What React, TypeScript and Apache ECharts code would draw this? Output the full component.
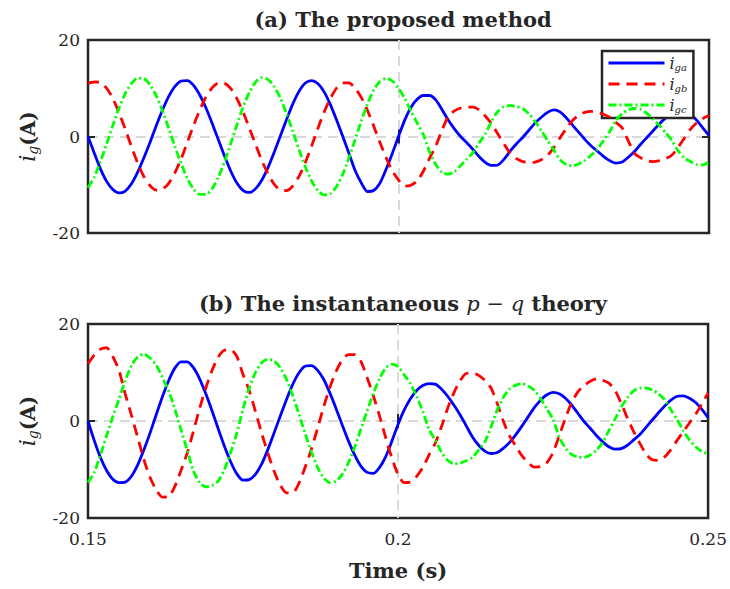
import React, { useEffect, useRef } from "react";
import * as echarts from "echarts";

// sampling grid of the time axis (s)
const T_START = 0.15;
const T_STEP = 0.001;

// (a) proposed method — grid currents (A), one value per ms from 0.150 to 0.250 s
const iaA = [
  0, -3.4, -6.7, -9.3, -11.0, -11.7, -11.3, -9.8, -7.4, -4.4,
  -1.2, 2.3, 5.5, 8.3, 10.4, 11.5, 11.6, 10.6, 8.6, 5.9,
  2.7, -0.7, -4.1, -7.2, -9.7, -11.2, -11.6, -10.8, -9.0, -6.4,
  -3.2, 0.2, 3.6, 6.8, 9.4, 11.1, 11.6, 11.0, 9.3, 6.7,
  3.5, 0.1, -3.4, -7.0, -9.6, -11.4, -11.2, -9.7, -6.8, -3.5,
  0, 3.4, 6.0, 7.7, 8.5, 8.5, 7.6, 5.6, 3.4, 1.6,
  0.0, -1.3, -2.7, -4.2, -5.4, -6.0, -5.9, -4.7, -3.0, -1.5,
  -0.2, 1.3, 2.8, 4.0, 5.0, 5.5, 5.1, 3.9, 2.4, 0.9,
  -0.6, -1.9, -3.0, -4.1, -5.0, -5.5, -5.3, -4.3, -3.1, -1.6,
  -0.2, 1.2, 2.6, 3.8, 4.7, 5.2, 5.3, 4.7, 3.4, 1.8,
  0.2,
];
const ibA = [
  11.0, 11.3, 11.2, 10.0, 7.9, 4.9, 1.5, -2.1, -5.5, -8.3,
  -10.2, -11.1, -10.9, -9.7, -7.5, -4.6, -1.2, 2.3, 5.5, 8.2,
  10.1, 11.1, 11.0, 9.9, 7.8, 5.0, 1.7, -1.7, -5.0, -7.8,
  -9.9, -11.1, -11.2, -10.2, -8.2, -5.4, -2.0, 1.6, 5.0, 7.8,
  10.0, 11.1, 11.1, 10.0, 8.1, 5.4, 2.2, -1.2, -4.4, -7.1,
  -9.0, -10.3, -10.1, -9.2, -7.2, -4.5, -2.0, 1.3, 4.1, 5.3,
  5.9, 6.1, 6.1, 5.5, 4.2, 2.6, 0.5, -1.6, -3.5, -4.6,
  -5.2, -5.4, -5.3, -4.8, -3.9, -2.3, -0.3, 1.6, 3.3, 4.4,
  5.0, 5.2, 5.0, 4.6, 4.0, 2.9, 1.8, -0.9, -3.5, -4.4,
  -5.0, -5.2, -5.0, -4.6, -3.9, -2.3, -0.4, 1.5, 2.8, 3.7,
  4.4,
];
const icA = [
  -10.6, -8.4, -5.2, -1.5, 2.3, 5.9, 8.9, 11.0, 12.1, 12.0,
  10.7, 8.4, 5.3, 1.7, -2.1, -5.6, -8.7, -10.9, -12.0, -12.0,
  -10.8, -8.4, -5.2, -1.4, 2.5, 6.2, 9.2, 11.3, 12.2, 11.8,
  10.3, 7.9, 4.6, 1.0, -2.8, -6.3, -9.2, -11.2, -12.1, -11.9,
  -10.4, -7.9, -4.5, -0.7, 3.2, 6.7, 9.6, 11.4, 12.0, 11.5,
  10.0, 7.9, 5.3, 2.8, 0.4, -3.2, -5.8, -7.4, -7.8, -7.3,
  -6.0, -4.7, -3.3, -1.3, 0.6, 3.2, 5.2, 6.2, 6.4, 6.2,
  5.8, 4.7, 3.1, 1.2, -0.8, -2.8, -4.8, -5.8, -6.1, -5.7,
  -5.0, -3.9, -2.7, -0.9, 1.0, 3.3, 4.7, 5.5, 5.8, 5.6,
  4.8, 3.6, 2.3, 0.8, -0.8, -2.9, -4.4, -5.2, -5.8, -5.9,
  -5.3,
];

// (b) instantaneous p-q theory — grid currents (A)
const iaB = [
  0, -4.0, -7.5, -10.2, -12.0, -12.7, -12.6, -11.4, -9.1, -6.0,
  -2.5, 1.3, 5.0, 8.3, 10.9, 12.2, 12.2, 11.0, 8.7, 5.6,
  2.1, -1.6, -5.2, -8.4, -10.9, -12.2, -12.1, -11.0, -8.9, -5.9,
  -2.5, 1.0, 4.4, 7.5, 9.9, 11.3, 11.4, 10.5, 8.6, 5.8,
  2.6, -0.8, -4.1, -7.0, -9.3, -10.6, -10.8, -9.6, -7.4, -4.2,
  -0.7, 2.3, 4.6, 6.3, 7.3, 7.7, 7.6, 6.6, 5.1, 3.3,
  1.3, -1.0, -3.3, -5.0, -6.2, -6.7, -6.5, -5.6, -4.4, -2.8,
  -1.0, 0.9, 2.8, 4.3, 5.4, 5.9, 5.6, 4.7, 3.3, 1.6,
  -0.1, -1.5, -3.0, -4.3, -5.3, -5.8, -5.7, -5.0, -3.9, -2.8,
  -1.3, 0.2, 1.7, 3.1, 4.3, 5.1, 5.2, 4.7, 3.8, 2.4,
  0.7,
];
const ibB = [
  11.8, 13.6, 14.8, 15.1, 13.3, 10.4, 5.6, 1.2, -3.3, -7.9,
  -11.6, -14.2, -15.7, -15.6, -13.5, -10.2, -6.6, -2.1, 2.6, 6.8,
  10.4, 13.2, 14.6, 14.7, 13.3, 9.6, 6.3, 2.0, -2.5, -6.6,
  -10.3, -13.2, -14.8, -14.8, -12.9, -9.6, -5.9, -1.6, 2.9, 6.9,
  10.2, 12.6, 13.7, 13.7, 12.3, 9.0, 5.3, 1.1, -3.4, -7.6,
  -11.0, -12.7, -12.6, -11.4, -9.6, -7.0, -4.6, -1.2, 2.6, 5.8,
  8.3, 9.8, 9.9, 9.4, 8.4, 6.8, 3.6, -0.1, -3.1, -5.2,
  -7.2, -8.6, -9.5, -9.4, -8.6, -6.5, -3.0, 0.6, 3.8, 6.0,
  7.3, 8.2, 8.7, 8.4, 7.8, 6.3, 3.6, 0.6, -2.2, -4.6,
  -6.8, -8.0, -8.1, -7.4, -5.9, -4.0, -2.2, -0.4, 1.4, 3.5,
  5.8,
];
const icB = [
  -12.7, -10.6, -7.0, -3.0, 0.9, 4.5, 8.3, 11.4, 13.2, 13.8,
  13.0, 11.5, 9.0, 6.2, 2.5, -1.8, -6.0, -10.3, -12.7, -13.6,
  -13.3, -12.4, -10.0, -6.5, -2.5, 2.5, 6.8, 10.0, 12.0, 12.7,
  12.4, 11.0, 8.6, 5.3, 1.5, -2.5, -6.3, -9.5, -11.7, -12.7,
  -12.4, -11.0, -8.6, -5.4, -1.7, 2.0, 5.6, 8.7, 10.9, 11.7,
  11.2, 9.5, 7.7, 5.0, 2.0, -1.7, -4.0, -6.4, -8.1, -8.8,
  -8.7, -8.2, -7.5, -6.0, -4.3, -1.2, 2.3, 4.9, 6.6, 7.4,
  7.7, 7.2, 6.3, 4.6, 2.5, 0.3, -3.3, -5.6, -6.9, -7.4,
  -7.5, -7.0, -6.0, -4.4, -2.0, 0.4, 2.9, 4.8, 6.2, 6.8,
  6.8, 6.4, 5.6, 4.4, 2.3, 0.3, -2.0, -3.9, -5.3, -6.3,
  -6.8,
];

const xTicks = [0.15, 0.2, 0.25];
const yTicks = [-20, 0, 20];
const seriesNames = ["iga", "igb", "igc"];
const titleA = "(a) The proposed method";
const titleB = "(b) The instantaneous {m|p − q} theory";

const SERIF = "'DejaVu Serif', 'Liberation Serif', serif";
const INK = "#262626";

export default function App() {
  const ref = useRef<HTMLDivElement>(null);
  useEffect(() => {
    if (!ref.current) return;
    const chart = echarts.init(ref.current, undefined, { renderer: "svg" });
    const time = iaA.map((_, i) => +(T_START + i * T_STEP).toFixed(3));
    const pair = (vals: number[]) => vals.map((v, i) => [time[i], v]);

    const colors = ["#0000ff", "#ff0000", "#00ff00"];
    const dash: any[] = ["solid", [11, 7], [8, 3, 2, 3]];

    const tick = { inside: true, length: 7, lineStyle: { color: INK, width: 2 } };
    const split = {
      show: true,
      showMinLine: false,
      showMaxLine: false,
      lineStyle: { color: "#d9d9d9", width: 2, type: [10, 6] },
    };
    const labelStyle = { color: INK, fontFamily: SERIF, fontSize: 17 };

    const xAx = (grid: number, pos: string, labels: boolean, withName: boolean) => ({
      type: "value",
      gridIndex: grid,
      position: pos,
      min: xTicks[0],
      max: xTicks[xTicks.length - 1],
      interval: 0.05,
      axisLine: { show: false },
      axisTick: tick,
      splitLine: pos === "bottom" ? split : { show: false },
      axisLabel: {
        show: labels,
        ...labelStyle,
        margin: 12,
        formatter: (v: number) => String(parseFloat(v.toFixed(2))),
      },
      name: withName ? "Time (s)" : "",
      nameLocation: "middle",
      nameGap: 42,
      nameTextStyle: { color: INK, fontFamily: SERIF, fontSize: 21, fontWeight: "bold" },
    });
    const yName = "{i|i}{s|g}{b|(A)}";
    const yAx = (grid: number, pos: string, labels: boolean) => ({
      type: "value",
      gridIndex: grid,
      position: pos,
      min: yTicks[0],
      max: yTicks[yTicks.length - 1],
      interval: 20,
      axisLine: { show: false },
      axisTick: tick,
      splitLine: pos === "left" ? split : { show: false },
      axisLabel: { show: labels, ...labelStyle, margin: 8 },
      name: labels ? yName : "",
      nameLocation: "middle",
      nameRotate: 90,
      nameGap: 48,
      nameTextStyle: {
        color: INK,
        rich: {
          i: { fontFamily: SERIF, fontStyle: "italic", fontSize: 22, color: INK },
          s: { fontFamily: SERIF, fontStyle: "italic", fontSize: 14, color: INK, padding: [11, 0, 0, 0] },
          b: { fontFamily: SERIF, fontWeight: "bold", fontSize: 20, color: INK },
        },
      },
    });

    const mk = (vals: number[], k: number, axis: number) => ({
      name: seriesNames[k],
      type: "line",
      xAxisIndex: axis,
      yAxisIndex: axis,
      data: pair(vals),
      showSymbol: false,
      symbol: "none",
      smooth: 0.25,
      clip: true,
      lineStyle: { color: colors[k], width: 2.8, type: dash[k] },
      itemStyle: { color: colors[k] },
      z: 3 + k,
    });

    chart.setOption({
      animation: false,
      backgroundColor: "#ffffff",
      title: [
        {
          text: titleA,
          left: 398,
          top: 4,
          textAlign: "center",
          textStyle: { fontFamily: SERIF, fontWeight: "bold", fontSize: 21, color: INK },
        },
        {
          text: titleB,
          left: 398,
          top: 288,
          textAlign: "center",
          textStyle: {
            fontFamily: SERIF,
            fontWeight: "bold",
            fontSize: 21,
            color: INK,
            rich: { m: { fontFamily: SERIF, fontStyle: "italic", fontWeight: "normal", fontSize: 21, color: INK } },
          },
        },
      ],
      legend: {
        data: seriesNames,
        left: 602,
        top: 51,
        orient: "vertical",
        itemWidth: 56,
        itemHeight: 14,
        itemGap: 4,
        padding: [4, 6, 4, 5],
        borderColor: INK,
        borderWidth: 2.5,
        borderRadius: 0,
        backgroundColor: "#ffffff",
        itemStyle: { opacity: 0 },
        lineStyle: { width: 3 },
        formatter: (n: string) => `{i|i}{s|${n.slice(1)}}`,
        textStyle: {
          rich: {
            i: { fontFamily: SERIF, fontStyle: "italic", fontSize: 16, color: INK },
            s: { fontFamily: SERIF, fontStyle: "italic", fontSize: 10, color: INK, padding: [8, 0, 0, 0] },
          },
        },
      },
      grid: [
        { left: 88, right: 21, top: 40, height: 193, show: true, borderColor: INK, borderWidth: 2.5, backgroundColor: "transparent" },
        { left: 88, right: 21, top: 324, height: 194, show: true, borderColor: INK, borderWidth: 2.5, backgroundColor: "transparent" },
      ],
      xAxis: [
        xAx(0, "bottom", false, false),
        xAx(1, "bottom", true, true),
        xAx(0, "top", false, false),
        xAx(1, "top", false, false),
      ],
      yAxis: [
        yAx(0, "left", true),
        yAx(1, "left", true),
        yAx(0, "right", false),
        yAx(1, "right", false),
      ],
      series: [
        mk(iaA, 0, 0),
        mk(ibA, 1, 0),
        mk(icA, 2, 0),
        mk(iaB, 0, 1),
        mk(ibB, 1, 1),
        mk(icB, 2, 1),
      ],
    });
    return () => chart.dispose();
  }, []);
  return (
    <div
      ref={ref}
      style={{ position: "fixed", left: 0, top: 0, width: 730, height: 589, background: "#fff" }}
    />
  );
}
